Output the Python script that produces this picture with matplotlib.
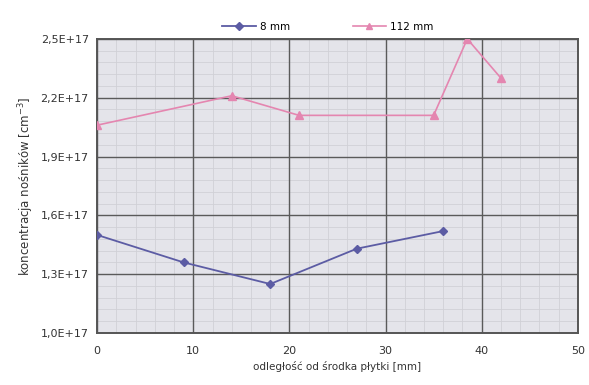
import matplotlib.pyplot as plt
import numpy as np
from matplotlib.ticker import FixedLocator, FuncFormatter

# Data
x_8mm = [0, 9, 18, 27, 36]
y_8mm = [1.50e17, 1.36e17, 1.25e17, 1.43e17, 1.52e17]
x_112mm = [0, 14, 21, 35, 38.5, 42]
y_112mm = [2.06e17, 2.21e17, 2.11e17, 2.11e17, 2.50e17, 2.30e17]
labels = ['8 mm', '112 mm']

fig = plt.figure(figsize=(5.89, 3.85), dpi=100)
ax = fig.add_axes([0.165, 0.135, 0.816, 0.764])
ax.set_facecolor('#e4e4ea')

ax.plot(x_8mm, y_8mm, color='#5c5ca4', marker='D', markersize=4.5, lw=1.3,
        label=labels[0], zorder=3)
ax.plot(x_112mm, y_112mm, color='#e486b0', marker='^', markersize=5.5, lw=1.2,
        label=labels[1], zorder=3)

ax.set_xlim(0, 50)
ax.set_ylim(1.0e17, 2.5e17)
x_major = np.arange(0, 51, 10)
x_minor = [v for v in np.arange(0, 51, 2) if v % 10]
y_major = np.linspace(1.0e17, 2.5e17, 6)
y_minor = [v for i, v in enumerate(np.linspace(1.0e17, 2.5e17, 26)) if i % 5]
ax.xaxis.set_major_locator(FixedLocator(x_major))
ax.yaxis.set_major_locator(FixedLocator(y_major))
ax.yaxis.set_major_formatter(FuncFormatter(
    lambda v, p: ('%.1fE+17' % (v / 1e17)).replace('.', ',')))

# faint minor grid under the major one
ax.vlines(x_minor, 1.0e17, 2.5e17, color='#d0d0d6', lw=0.6, zorder=0.1)
ax.hlines(y_minor, 0, 50, color='#d0d0d6', lw=0.6, zorder=0.1)
ax.grid(which='major', color='#5a5a5a', lw=1.0)
ax.set_axisbelow(True)
for s in ax.spines.values():
    s.set_color('#555555')
    s.set_linewidth(1.4)

ax.tick_params(which='both', length=0, labelsize=8, colors='#333333', pad=6)
ax.tick_params(axis='x', pad=9)
ax.set_xlabel('odległość od środka płytki [mm]', fontsize=7.5, color='#333333',
              labelpad=4)
ax.set_ylabel('koncentracja nośników [cm$^{-3}$]', fontsize=8.5, color='#333333',
              labelpad=3)

ax.legend(loc='lower center', bbox_to_anchor=(0.48, 1.0), ncol=2, frameon=False,
          fontsize=7.5, handlelength=3.2, columnspacing=6.0, borderaxespad=0.3,
          handletextpad=0.4, markerscale=0.8)

plt.savefig('out.png', dpi=100)
